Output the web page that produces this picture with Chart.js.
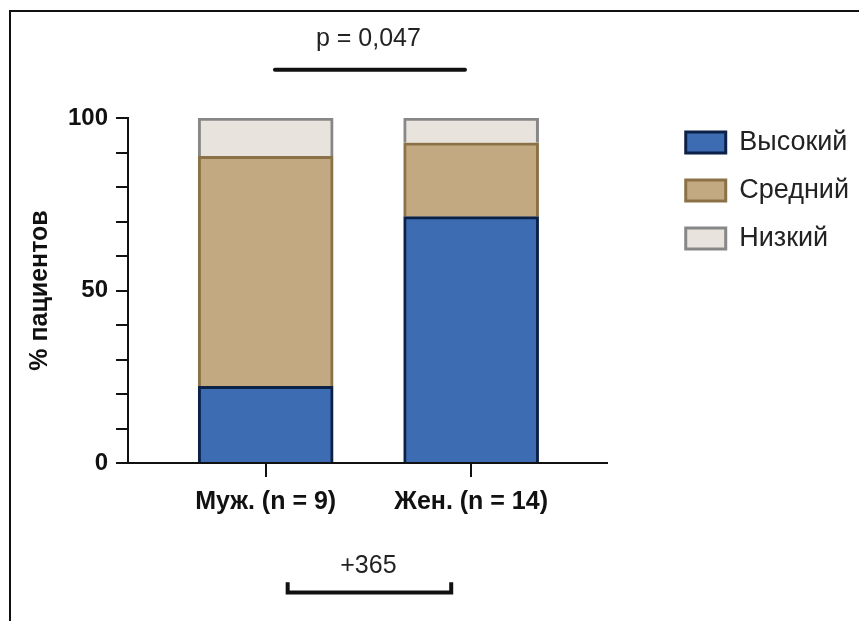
<!DOCTYPE html>
<html>
<head>
<meta charset="utf-8">
<script src="https://cdn.jsdelivr.net/npm/chart.js@4.4.1/dist/chart.umd.min.js"></script>
<style>
  html, body { margin: 0; padding: 0; background: #fff; }
</style>
</head>
<body>
<canvas id="chart" width="859" height="621"></canvas>
<script>
const categories = ['Муж. (n = 9)', 'Жен. (n = 14)'];
const seriesNames = ['Высокий', 'Средний', 'Низкий'];
const highValues = [22.2, 71.4];
const midValues = [66.7, 21.4];
const lowValues = [11.1, 7.2];
const yTickLabels = [0, 50, 100];
const pValueText = 'p = 0,047';
const bracketText = '+365';

const fontFamily = '"Liberation Sans", Arial, Helvetica, sans-serif';
Chart.defaults.font.family = fontFamily;
Chart.defaults.color = '#111';

function toPoints(values) {
    return values.map((v, i) => ({ x: i, y: v }));
}

// p-value bar on top, bracket with label under the axis, open frame
const annotations = {
    id: 'annotations',
    afterDraw(chart) {
        const ctx = chart.ctx;
        const xs = chart.scales.x;
        const ys = chart.scales.y;
        const mid = (xs.getPixelForValue(0) + xs.getPixelForValue(1)) / 2;
        ctx.save();
        ctx.strokeStyle = '#111';
        ctx.lineWidth = 2;
        ctx.beginPath();
        ctx.moveTo(10, chart.height);
        ctx.lineTo(10, 11);
        ctx.lineTo(chart.width, 11);
        ctx.stroke();

        ctx.fillStyle = '#222';
        ctx.font = '25px ' + fontFamily;
        ctx.textAlign = 'center';
        ctx.textBaseline = 'middle';
        ctx.fillText(pValueText, mid, ys.getPixelForValue(123));
        ctx.lineWidth = 4;
        ctx.lineCap = 'round';
        ctx.beginPath();
        ctx.moveTo(xs.getPixelForValue(0.045), ys.getPixelForValue(114));
        ctx.lineTo(xs.getPixelForValue(0.97), ys.getPixelForValue(114));
        ctx.stroke();

        ctx.fillText(bracketText, mid, ys.getPixelForValue(-30));
        ctx.lineCap = 'butt';
        ctx.beginPath();
        ctx.moveTo(xs.getPixelForValue(0.107), ys.getPixelForValue(-34.6));
        ctx.lineTo(xs.getPixelForValue(0.107), ys.getPixelForValue(-37.5));
        ctx.lineTo(xs.getPixelForValue(0.903), ys.getPixelForValue(-37.5));
        ctx.lineTo(xs.getPixelForValue(0.903), ys.getPixelForValue(-34.6));
        ctx.stroke();
        ctx.restore();
    }
};

const ctx = document.getElementById('chart').getContext('2d');
const chart = new Chart(ctx, {
    type: 'bar',
    data: {
        datasets: [
            { label: seriesNames[0], data: toPoints(highValues), backgroundColor: '#3D6CB2', borderColor: '#0C2148', borderWidth: 3 },
            { label: seriesNames[1], data: toPoints(midValues), backgroundColor: '#C2A981', borderColor: '#8A7246', borderWidth: 3 },
            { label: seriesNames[2], data: toPoints(lowValues), backgroundColor: '#E8E4DD', borderColor: '#878787', borderWidth: 3 }
        ]
    },
    options: {
        responsive: false,
        animation: false,
        datasets: { bar: { barThickness: 135 } },
        layout: { padding: { top: 108, left: 25, right: 0, bottom: 94 } },
        plugins: {
            tooltip: { enabled: false },
            legend: {
                position: 'right',
                align: 'start',
                maxWidth: 220,
                labels: {
                    boxWidth: 40,
                    boxHeight: 21,
                    padding: 21,
                    color: '#222',
                    font: { size: 27 }
                }
            }
        },
        scales: {
            x: {
                type: 'linear',
                stacked: true,
                offset: false,
                min: -0.67,
                max: 1.66,
                afterBuildTicks: (scale) => {
                    scale.ticks = categories.map((c, i) => ({ value: i }));
                },
                ticks: {
                    callback: (v) => categories[v],
                    font: { size: 25, weight: 'bold' },
                    color: '#111',
                    padding: 10,
                    maxRotation: 0
                },
                grid: { offset: false, drawOnChartArea: false, tickLength: 14, color: '#111', lineWidth: 2 },
                border: { color: '#111', width: 2 }
            },
            y: {
                stacked: true,
                min: 0,
                max: 100,
                ticks: {
                    stepSize: 10,
                    callback: (v) => yTickLabels.includes(v) ? v : '',
                    font: { size: 24, weight: 'bold' },
                    color: '#111',
                    padding: 8
                },
                grid: { drawOnChartArea: false, tickLength: 12, color: '#111', lineWidth: 2 },
                border: { color: '#111', width: 2 },
                title: {
                    display: true,
                    text: '% пациентов',
                    font: { size: 25, weight: 'bold' },
                    color: '#111',
                    padding: { top: 0, bottom: 5 }
                }
            },
            xTop: {
                type: 'linear',
                position: 'top',
                ticks: { display: false },
                grid: { display: false },
                border: { display: false },
                afterFit: (scale) => { scale.height = 10; }
            },
            yRight: {
                type: 'linear',
                position: 'right',
                ticks: { display: false },
                grid: { display: false },
                border: { display: false },
                afterFit: (scale) => { scale.width = 58; }
            }
        }
    },
    plugins: [annotations]
});
</script>
</body>
</html>
